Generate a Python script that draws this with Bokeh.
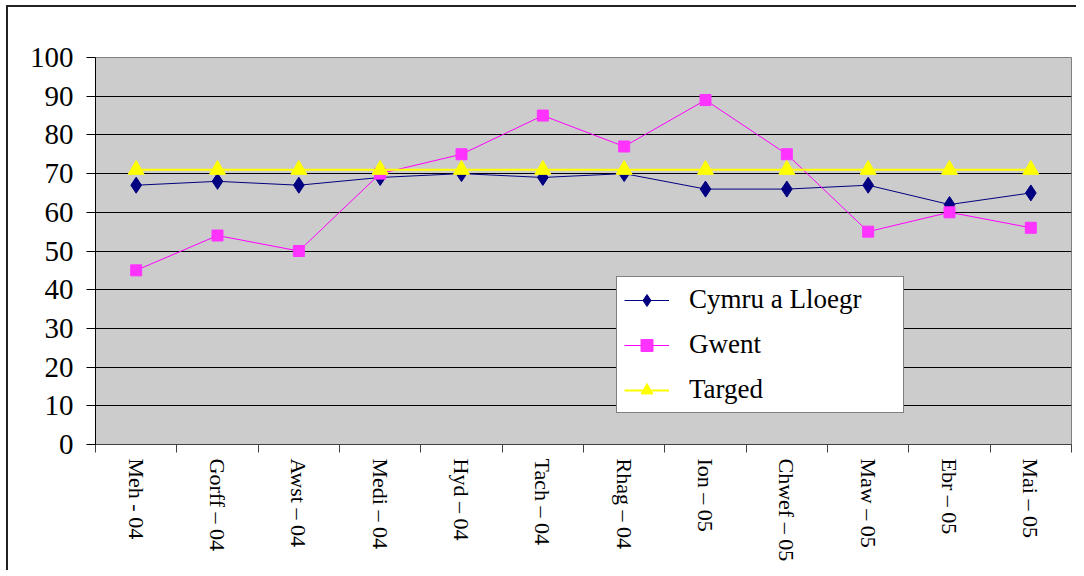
from bokeh.plotting import figure
from bokeh.models import Range1d, LinearAxis, FixedTicker, Legend
from bokeh.embed import file_html
from bokeh.resources import INLINE
import math

months = ["Meh - 04", "Gorff \u2013 04", "Awst \u2013 04", "Medi \u2013 04", "Hyd \u2013 04",
          "Tach \u2013 04", "Rhag \u2013 04", "Ion \u2013 05", "Chwef \u2013 05", "Maw \u2013 05",
          "Ebr \u2013 05", "Mai \u2013 05"]
cymru = [67, 68, 67, 69, 70, 69, 70, 66, 66, 67, 62, 65]
gwent = [45, 54, 50, 70, 75, 85, 77, 89, 75, 55, 60, 56]
targed = [71, 71, 71, 71, 71, 71, 71, 71, 71, 71, 71, 71]
y_ticks = [0, 10, 20, 30, 40, 50, 60, 70, 80, 90, 100]
names = ["Cymru a Lloegr", "Gwent", "Targed"]

FONT = "Liberation Serif"

n = len(months)
xc = [i + 0.5 for i in range(n)]  # category centres

p = figure(width=1070, height=565, x_range=Range1d(0, n), y_range=Range1d(0, 100),
           x_axis_location=None, output_backend="svg", toolbar_location=None,
           min_border_left=87, min_border_top=50, min_border_right=7, min_border_bottom=128)
p.styles = {"border-left": "2px solid #222222", "border-top": "2px solid #222222",
            "margin-left": "6px", "margin-top": "5px"}

p.background_fill_color = "#cccccc"
p.border_fill_color = "white"
p.outline_line_color = "#808080"
p.outline_line_width = 1

# y axis
ya = p.yaxis[0]
ya.ticker = FixedTicker(ticks=y_ticks)
ya.axis_line_color = "black"
ya.major_tick_line_color = "black"
ya.major_tick_out = 9
ya.major_tick_in = 0
ya.minor_tick_line_color = None
ya.major_label_text_font = FONT
ya.major_label_text_font_size = "29px"
ya.major_label_text_color = "black"
ya.major_label_standoff = 13

p.ygrid.ticker = FixedTicker(ticks=y_ticks)
p.ygrid.grid_line_color = "black"
p.ygrid.grid_line_width = 1
p.xgrid.grid_line_color = None

# boundary tick axis (closest to frame)
bounds = list(range(n + 1))
tick_axis = LinearAxis(ticker=FixedTicker(ticks=bounds),
                       major_label_overrides={b: "" for b in bounds},
                       major_tick_out=8, major_tick_in=0,
                       minor_tick_line_color=None,
                       axis_line_color="#404040", major_tick_line_color="#404040",
                       major_label_standoff=0, major_label_text_font_size="1px")
p.add_layout(tick_axis, "below")

label_axis = LinearAxis(ticker=FixedTicker(ticks=xc),
                        major_label_overrides={c: m for c, m in zip(xc, months)},
                        axis_line_color=None, major_tick_line_color=None,
                        minor_tick_line_color=None,
                        major_tick_out=0, major_tick_in=0,
                        major_label_orientation=-math.pi / 2,
                        major_label_text_font=FONT,
                        major_label_text_font_size="22px",
                        major_label_text_color="black",
                        major_label_standoff=6)
p.add_layout(label_axis, "below")

# series
l1 = p.line(xc, cymru, line_color="#000080", line_width=1)
s1 = p.scatter(xc, cymru, marker="diamond", size=16, fill_color="#000080",
               line_color="#000080")
l2 = p.line(xc, gwent, line_color="#ff00ff", line_width=1)
s2 = p.scatter(xc, gwent, marker="square", size=11, fill_color="#ff33ff",
               line_color="#ff33ff")
l3 = p.line(xc, targed, line_color="#ffff00", line_width=2)
s3 = p.scatter(xc, targed, marker="triangle", size=16, fill_color="#ffff00",
               line_color="#ffff00")

legend = Legend(items=[(names[0], [l1, s1]), (names[1], [l2, s2]), (names[2], [l3, s3])],
                location=(521, 31), orientation="vertical",
                glyph_width=45, glyph_height=30, label_height=30, label_width=207,
                label_standoff=20, spacing=14, padding=7, margin=0,
                label_text_font=FONT, label_text_font_size="27px",
                label_text_color="black",
                border_line_color="black", border_line_width=1,
                background_fill_color="white", background_fill_alpha=1.0)
p.add_layout(legend, "center")

open("out.html", "w").write(file_html(p, INLINE))
